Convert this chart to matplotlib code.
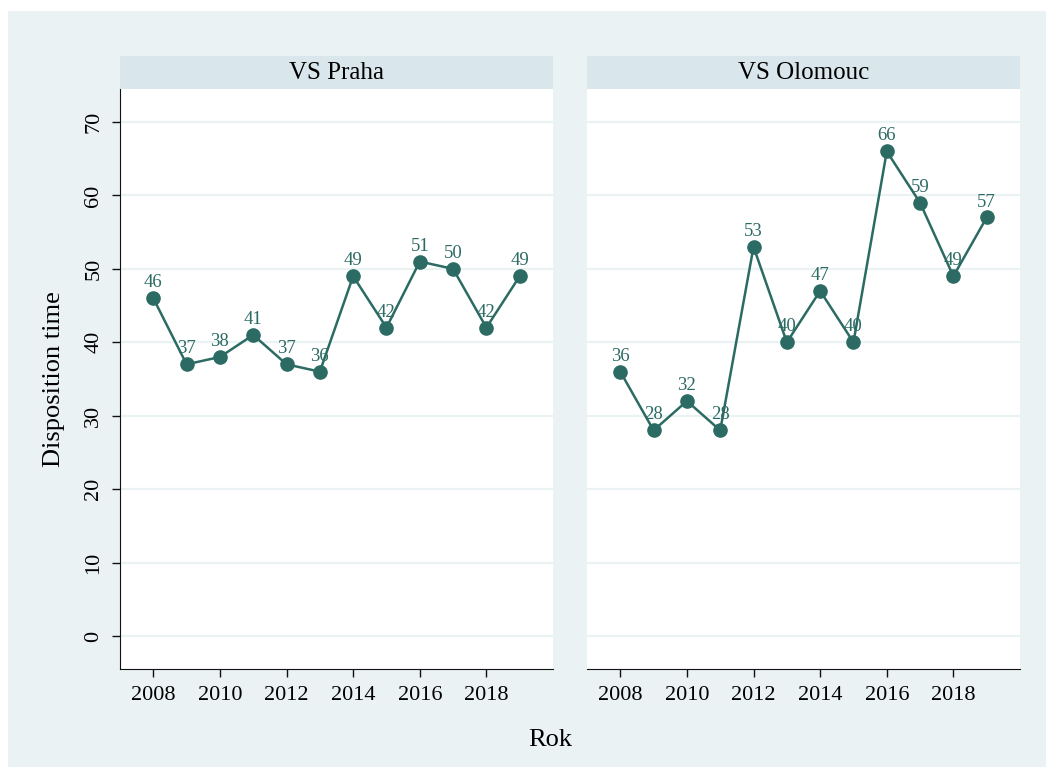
import matplotlib
matplotlib.use("Agg")
import matplotlib.pyplot as plt
from matplotlib.patches import Rectangle

# data
years = [2008, 2009, 2010, 2011, 2012, 2013, 2014, 2015, 2016, 2017, 2018, 2019]
praha = [46, 37, 38, 41, 37, 36, 49, 42, 51, 50, 42, 49]
olomouc = [36, 28, 32, 28, 53, 40, 47, 40, 66, 59, 49, 57]
panels = ["VS Praha", "VS Olomouc"]
xticks = [2008, 2010, 2012, 2014, 2016, 2018]
yticks = [0, 10, 20, 30, 40, 50, 60, 70]

plt.rcParams['font.family'] = ['Liberation Serif', 'DejaVu Serif']

W, H = 1052, 772
bg = '#EAF2F3'
strip_c = '#D9E6EB'
line_c = '#2C6B63'

fig = plt.figure(figsize=(W / 100, H / 100), dpi=100, facecolor='white')
# light backdrop behind the whole graph, with a thin white margin
fig.patches.append(Rectangle((8 / W, 1 - 767 / H), 1038 / W, 756 / H,
                             transform=fig.transFigure, facecolor=bg,
                             edgecolor='none', zorder=-10))


def px_axes(x0, y0, x1, y1):
    return fig.add_axes([x0 / W, 1 - y1 / H, (x1 - x0) / W, (y1 - y0) / H])


lefts = [120, 587]
series = [praha, olomouc]
for i, (name, vals) in enumerate(zip(panels, series)):
    x0 = lefts[i]
    x1 = x0 + 433
    ax = px_axes(x0, 89, x1, 669)
    ax.set_facecolor('white')
    ax.plot(years, vals, color=line_c, lw=1.8, marker='o', ms=9.5, zorder=3)
    for xv, yv in zip(years, vals):
        ax.annotate(str(yv), (xv, yv), xytext=(0, 5), textcoords='offset points',
                    ha='center', va='bottom', fontsize=13.5, color=line_c, zorder=4)
    ax.set_xlim(2007, 2020)
    ax.set_ylim(-4.5, 74.5)
    ax.set_yticks(yticks)
    ax.set_xticks(xticks)
    ax.grid(axis='y', color=bg, lw=1.6)
    ax.set_axisbelow(True)
    for s in ['top', 'right']:
        ax.spines[s].set_visible(False)
    ax.spines['bottom'].set_color('#111111')
    ax.spines['left'].set_color('#111111')
    ax.tick_params(axis='x', length=6, width=1, color='#111111', labelsize=16, pad=6)
    if i == 0:
        ax.tick_params(axis='y', length=6, width=1, color='#111111', labelsize=16, pad=6)
        for lab in ax.get_yticklabels():
            lab.set_rotation(90)
            lab.set_va('center')
        ax.set_ylabel('Disposition time', fontsize=19, labelpad=14)
    else:
        ax.spines['left'].set_visible(False)
        ax.tick_params(axis='y', length=0, labelleft=False)

    # panel title strip
    st = px_axes(x0, 56, x1, 89)
    st.set_facecolor(strip_c)
    st.set_xticks([])
    st.set_yticks([])
    for s in st.spines.values():
        s.set_visible(False)
    st.text(0.5, 0.48, name, ha='center', va='center', fontsize=18, transform=st.transAxes)

fig.text(550 / W, 1 - 740 / H, 'Rok', ha='center', va='center', fontsize=19)

fig.savefig('out.png', dpi=100, facecolor='white')
